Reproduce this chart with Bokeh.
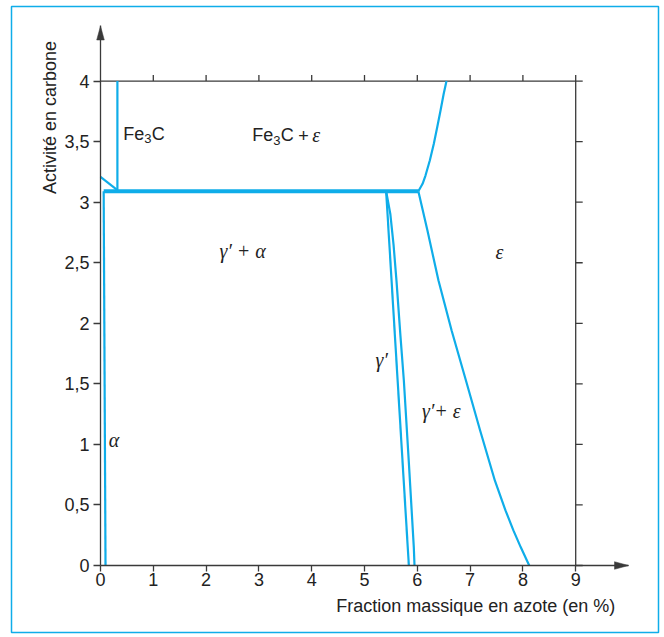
import math

from bokeh.plotting import figure
from bokeh.models import Range1d, FixedTicker, CustomJSTickFormatter, Label
from bokeh.embed import file_html
from bokeh.resources import INLINE

# Axis ticks
x_ticks = [0, 1, 2, 3, 4, 5, 6, 7, 8, 9]
y_ticks = [0, 0.5, 1, 1.5, 2, 2.5, 3, 3.5, 4]

# Phase boundaries: x = fraction massique en azote (%), y = activité en carbone
alpha_x = [0.06, 0.095]
alpha_y = [3.09, 0.0]

plateau_x = [0.06, 6.02]
plateau_y = [3.09, 3.09]

fe3c_x = [0.32, 0.32]
fe3c_y = [3.09, 4.0]

fe3c_low_x = [0.0, 0.32]
fe3c_low_y = [3.21, 3.10]

gp_left_x = [5.41, 5.84]
gp_left_y = [3.09, 0.0]

gp_right_x = [5.41, 5.49, 5.55, 5.606, 5.68, 5.745, 5.84, 5.934, 5.947]
gp_right_y = [3.09, 2.90, 2.65, 2.35, 1.90, 1.53, 0.85, 0.15, 0.0]

eps_low_x = [6.02, 6.19, 6.40, 6.65, 6.92, 7.19, 7.47, 7.67, 7.82, 7.96, 8.12]
eps_low_y = [3.09, 2.77, 2.355, 1.94, 1.53, 1.115, 0.70, 0.455, 0.29, 0.15, 0.0]

eps_high_x = [6.02, 6.10, 6.155, 6.237, 6.313, 6.377, 6.44, 6.50, 6.553]
eps_high_y = [3.09, 3.152, 3.22, 3.344, 3.482, 3.619, 3.757, 3.895, 4.0]

# Axis extents (arrow tips)
X_AXIS_END = 10.0
Y_AXIS_END = 4.455

BLUE = "#0fade9"
AXIS = "#3a3a3a"
TEXT = "#222222"
SANS = "Liberation Sans"
SERIF = "Liberation Serif"

# Page geometry (pixels): the frame is the blue box, the origin sits inside it
FRAME_L, FRAME_R, FRAME_T, FRAME_B = 11, 658, 6, 632
ORIGIN_PX, ORIGIN_PY = 100, 565
PX_PER_X, PX_PER_Y = 52.8, 121.1

p = figure(width=664, height=637,
           x_range=Range1d((FRAME_L - ORIGIN_PX) / PX_PER_X, (FRAME_R - ORIGIN_PX) / PX_PER_X),
           y_range=Range1d((ORIGIN_PY - FRAME_B) / PX_PER_Y, (ORIGIN_PY - FRAME_T) / PX_PER_Y),
           output_backend="svg", toolbar_location=None,
           min_border_left=FRAME_L, min_border_right=664 - FRAME_R,
           min_border_top=FRAME_T, min_border_bottom=637 - FRAME_B)
p.grid.visible = False
p.outline_line_color = BLUE
p.outline_line_width = 1.5
p.background_fill_color = "white"
p.border_fill_color = "white"

px_x = 1.0 / PX_PER_X
px_y = 1.0 / PX_PER_Y

for ax in (p.xaxis, p.yaxis):
    ax.fixed_location = 0
    ax.axis_line_color = AXIS
    ax.axis_line_width = 1.3
    ax.major_tick_line_color = AXIS
    ax.major_tick_line_width = 1.3
    ax.minor_tick_line_color = None
    ax.major_tick_in = 0
    ax.major_label_text_font = SANS
    ax.major_label_text_font_size = "18px"
    ax.major_label_text_color = TEXT
    ax.formatter = CustomJSTickFormatter(code="return tick.toString().replace('.', ',');")

p.xaxis.bounds = (0, X_AXIS_END)
p.yaxis.bounds = (0, Y_AXIS_END)
p.xaxis.ticker = FixedTicker(ticks=x_ticks)
p.yaxis.ticker = FixedTicker(ticks=y_ticks)
p.xaxis.major_tick_out = 6
p.yaxis.major_tick_out = 7
p.xaxis.major_label_standoff = 1
p.yaxis.major_label_standoff = 4

# closing frame: top and right lines with outward ticks
x_last, y_last = x_ticks[-1], y_ticks[-1]
p.line([x_ticks[0], x_last], [y_last, y_last], line_color=AXIS, line_width=1.3)
p.line([x_last, x_last], [y_ticks[0], y_last], line_color=AXIS, line_width=1.3)
p.segment(x0=x_ticks[1:], y0=[y_last] * (len(x_ticks) - 1),
          x1=x_ticks[1:], y1=[y_last + 6 * px_y] * (len(x_ticks) - 1),
          line_color=AXIS, line_width=1.3)
p.segment(x0=[x_last] * len(y_ticks), y0=y_ticks,
          x1=[x_last + 7 * px_x] * len(y_ticks), y1=y_ticks,
          line_color=AXIS, line_width=1.3)

# arrow heads at the ends of both axes
hw, hl = 3.8, 14.0
p.patches(xs=[[-hw * px_x, 0, hw * px_x],
              [X_AXIS_END - hl * px_x, X_AXIS_END, X_AXIS_END - hl * px_x]],
          ys=[[Y_AXIS_END - hl * px_y, Y_AXIS_END, Y_AXIS_END - hl * px_y],
              [-hw * px_y, 0, hw * px_y]],
          fill_color=AXIS, line_color=AXIS, line_width=0.5)

# phase boundaries
kw = dict(line_color=BLUE, line_width=2.2, line_join="round")
p.line(alpha_x, alpha_y, **kw)
p.line(fe3c_x, fe3c_y, **kw)
p.line(fe3c_low_x, fe3c_low_y, **kw)
p.line(gp_left_x, gp_left_y, **kw)
p.line(gp_right_x, gp_right_y, **kw)
p.line(eps_low_x, eps_low_y, **kw)
p.line(eps_high_x, eps_high_y, **kw)
p.line(plateau_x, plateau_y, line_color=BLUE, line_width=4)


def lab(x, y, text, font=SANS, size="18px", style="normal", **extra):
    p.add_layout(Label(x=x, y=y, text=text, text_font=font, text_font_size=size,
                       text_font_style=style, text_color=TEXT,
                       text_baseline=extra.pop("text_baseline", "alphabetic"), **extra))


def fe3c(x, y):
    lab(x, y, "Fe")
    lab(x, y, "3", size="13px", x_offset=21, y_offset=-5)
    lab(x, y, "C", x_offset=28.5)


GREEK = dict(font=SERIF, size="20px", style="italic")

fe3c(0.43, 3.565)
fe3c(2.873, 3.553)
lab(2.873, 3.553, "+", x_offset=46)
lab(2.873, 3.553, "ε", x_offset=60, **GREEK)

lab(2.254, 2.600, "γ′ + α", **GREEK)
lab(7.48, 2.590, "ε", **GREEK)
lab(5.21, 1.700, "γ′", **GREEK)
lab(6.09, 1.275, "γ′+ ε", **GREEK)
lab(0.157, 1.040, "α", **GREEK)

# axis titles
lab(-0.947, 3.70, "Activité en carbone", angle=math.pi / 2,
    text_align="center", text_baseline="middle")
lab(9.75, -0.338, "Fraction massique en azote (en %)", text_align="right")

open("out.html", "w").write(file_html(p, INLINE))
